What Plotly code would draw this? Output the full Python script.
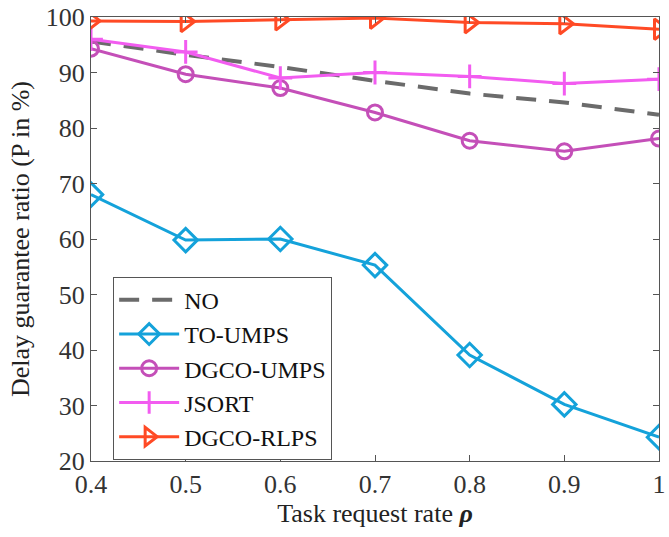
import plotly.graph_objects as go

x = [0.4, 0.5, 0.6, 0.7, 0.8, 0.9, 1.0]
no_vals = [95.6, 93.2, 91.0, 88.5, 86.2, 84.6, 82.4]
to_umps = [68.0, 59.8, 60.0, 55.3, 39.1, 30.2, 24.3]
dgco_umps = [94.3, 89.7, 87.2, 82.8, 77.7, 75.8, 78.1]
jsort = [96.0, 93.7, 89.0, 90.0, 89.3, 88.0, 88.8]
dgco_rlps = [99.3, 99.2, 99.5, 99.8, 99.0, 98.8, 97.8]

x_ticks = [0.4, 0.5, 0.6, 0.7, 0.8, 0.9, 1.0]
x_tick_text = ["0.4", "0.5", "0.6", "0.7", "0.8", "0.9", "1"]
y_ticks = [20, 30, 40, 50, 60, 70, 80, 90, 100]

FONT = '"Liberation Serif", "Times New Roman", Times, serif'

fig = go.Figure()
fig.add_trace(go.Scatter(x=x, y=no_vals, name="NO", mode="lines",
                         line=dict(color="#6b6b6b", width=4, dash="20px,13px")))
fig.add_trace(go.Scatter(x=x, y=to_umps, name="TO-UMPS", mode="lines+markers",
                         line=dict(color="#14a2da", width=3),
                         marker=dict(symbol="diamond-open", size=18, line=dict(width=3, color="#14a2da"))))
fig.add_trace(go.Scatter(x=x, y=dgco_umps, name="DGCO-UMPS", mode="lines+markers",
                         line=dict(color="#c44fb8", width=3),
                         marker=dict(symbol="circle-open", size=15, line=dict(width=3, color="#c44fb8"))))
fig.add_trace(go.Scatter(x=x, y=jsort, name="JSORT", mode="lines+markers",
                         line=dict(color="#f25cf0", width=3),
                         marker=dict(symbol="cross-thin-open", size=17, line=dict(width=3, color="#f25cf0"))))
fig.add_trace(go.Scatter(x=x, y=dgco_rlps, name="DGCO-RLPS", mode="lines+markers",
                         line=dict(color="#ff4a25", width=3),
                         marker=dict(symbol="triangle-right-open", size=18, line=dict(width=3, color="#ff4a25"))))

fig.update_layout(
    width=669, height=537,
    margin=dict(l=91, r=10, t=17, b=76),
    paper_bgcolor="white", plot_bgcolor="white",
    font=dict(family=FONT, size=25, color="#222222"),
    showlegend=True,
    legend=dict(x=0.039, y=0.415, xanchor="left", yanchor="top",
                bgcolor="white", bordercolor="#555555", borderwidth=1,
                font=dict(family=FONT, size=24, color="#111111"),
                itemwidth=60, tracegroupgap=0),
)
fig.update_xaxes(range=[0.4, 1.0], tickvals=x_ticks, ticktext=x_tick_text,
                 showline=True, linecolor="#555555", linewidth=1, mirror="ticks",
                 ticks="inside", ticklen=6, tickcolor="#555555", showgrid=False, zeroline=False,
                 automargin=False,
                 tickfont=dict(family=FONT, size=26, color="#333333"),
                 title=dict(text="Task request rate <b><i>ρ</i></b>", standoff=4,
                            font=dict(family=FONT, size=26, color="#222222")))
fig.update_yaxes(range=[20, 100], tickvals=y_ticks,
                 showline=True, linecolor="#555555", linewidth=1, mirror="ticks",
                 ticks="inside", ticklen=6, tickcolor="#555555", showgrid=False, zeroline=False,
                 automargin=False,
                 tickfont=dict(family=FONT, size=26, color="#333333"),
                 title=dict(text="Delay guarantee ratio (P in %)", standoff=8,
                            font=dict(family=FONT, size=26, color="#222222")))

fig.write_html("out.html")
